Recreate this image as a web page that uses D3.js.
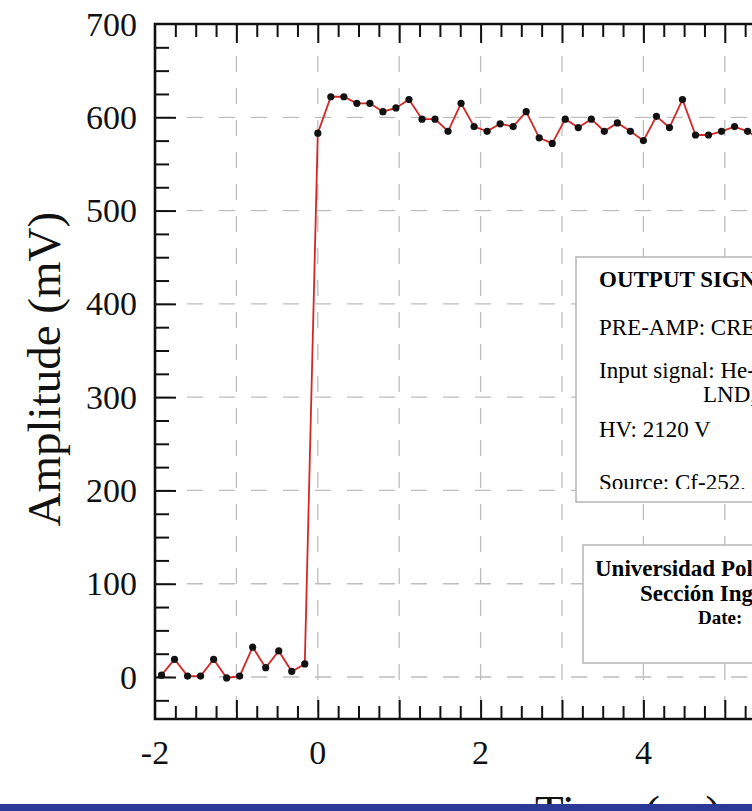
<!DOCTYPE html>
<html>
<head>
<meta charset="utf-8">
<script src="https://cdn.jsdelivr.net/npm/d3@7"></script>
<style>
  body { margin: 0; background: #fff; overflow: hidden; }
  svg { display: block; font-family: "Liberation Serif", "Times New Roman", serif; }
</style>
</head>
<body>
<script>
// signal samples
const timeUs = [-1.92, -1.76, -1.60, -1.44, -1.28, -1.12, -0.96, -0.80, -0.64, -0.48, -0.32, -0.16,
  0.00, 0.16, 0.32, 0.48, 0.64, 0.80, 0.96, 1.12, 1.28, 1.44, 1.60, 1.76, 1.92, 2.08, 2.24, 2.40,
  2.56, 2.72, 2.88, 3.04, 3.20, 3.36, 3.52, 3.68, 3.84, 4.00, 4.16, 4.32, 4.48, 4.64, 4.80, 4.96,
  5.12, 5.28, 5.44];
const amplitudeMv = [2, 19, 1, 1, 19, -1, 1, 32, 10, 28, 6, 14,
  583, 622, 622, 615, 615, 606, 610, 619, 598, 598, 585, 615, 590, 585, 593, 590,
  606, 578, 572, 598, 589, 598, 585, 594, 585, 575, 601, 589, 619, 581, 581, 585,
  590, 585, 576];

const yTickLabels = [0, 100, 200, 300, 400, 500, 600, 700];
const xTickLabels = [-2, 0, 2, 4, 6];

const infoTitle = 'OUTPUT SIGNAL';
const infoLines = ['PRE-AMP: CREMAT CR-110', 'Input signal: He-3 detector', 'LND, 252180', 'HV: 2120 V', 'Source: Cf-252, 9 cm'];
const labLines = ['Universidad Politécnica de Madrid', 'Sección Ingeniería Nuclear', 'Date:'];

const W = 752, H = 811;
const svg = d3.select('body').append('svg').attr('width', W).attr('height', H);

const x = d3.scaleLinear().domain([-2, 6]).range([155, 155 + 8 * 81.4]);
const y = d3.scaleLinear().domain([-45, 700]).range([719, 24]);

const gridColor = '#bdbdbd';

// dashed grid
const grid = svg.append('g');
grid.selectAll('line.gx')
  .data(d3.range(-1, 6, 1))
  .join('line')
  .attr('x1', d => x(d)).attr('x2', d => x(d))
  .attr('y1', y(700)).attr('y2', y(-45))
  .attr('stroke', gridColor).attr('stroke-width', 1.3)
  .attr('stroke-dasharray', '16,16');
grid.selectAll('line.gy')
  .data(yTickLabels.filter(d => d < 700))
  .join('line')
  .attr('x1', x(-2)).attr('x2', W + 60)
  .attr('y1', d => y(d)).attr('y2', d => y(d))
  .attr('stroke', gridColor).attr('stroke-width', 1.3)
  .attr('stroke-dasharray', '16,16');

// info boxes
svg.append('clipPath').attr('id', 'box1clip')
  .append('rect').attr('x', 576).attr('y', 257).attr('width', 300).attr('height', 232);

const box1 = svg.append('g');
box1.append('rect')
  .attr('x', 576).attr('y', 257).attr('width', 260).attr('height', 245)
  .attr('fill', '#fff').attr('stroke', '#b5b5b5').attr('stroke-width', 1.5);
box1.append('text').attr('x', 599).attr('y', 287)
  .attr('font-size', 23).attr('font-weight', 'bold').text(infoTitle);
const infoPos = [[599, 335], [599, 378], [703, 402], [599, 437], [599, 490]];
box1.append('g').attr('clip-path', 'url(#box1clip)')
  .selectAll('text.info')
  .data(infoLines)
  .join('text')
  .attr('class', 'info')
  .attr('x', (d, i) => infoPos[i][0]).attr('y', (d, i) => infoPos[i][1])
  .attr('font-size', 23)
  .text(d => d);

const box2 = svg.append('g');
box2.append('rect')
  .attr('x', 583).attr('y', 545).attr('width', 260).attr('height', 118)
  .attr('fill', '#fff').attr('stroke', '#b5b5b5').attr('stroke-width', 1.5);
const labPos = [[595, 576, 23], [640, 601, 23], [698, 624, 19]];
box2.selectAll('text')
  .data(labLines)
  .join('text')
  .attr('x', (d, i) => labPos[i][0]).attr('y', (d, i) => labPos[i][1])
  .attr('font-size', (d, i) => labPos[i][2])
  .attr('font-weight', 'bold')
  .text(d => d);

// trace
const line = d3.line()
  .x((d, i) => x(timeUs[i]))
  .y(d => y(d));
svg.append('path')
  .attr('d', line(amplitudeMv))
  .attr('fill', 'none')
  .attr('stroke', '#d42626')
  .attr('stroke-width', 1.8);
svg.append('g').selectAll('circle')
  .data(amplitudeMv)
  .join('circle')
  .attr('cx', (d, i) => x(timeUs[i]))
  .attr('cy', d => y(d))
  .attr('r', 3.6)
  .attr('fill', '#111');

// axes: ticks point inward
const xMinor = d3.range(-1.75, 6, 0.25).filter(d => Math.abs(d - Math.round(d)) > 1e-6);
const xMajor = d3.range(-1, 7, 1);
const yMinor = d3.range(-25, 700, 25).filter(d => d % 100 !== 0);
const yMajor = yTickLabels.filter(d => d < 700);

function styleAxis(g) {
  g.select('.domain').remove();
  g.selectAll('.tick line').attr('stroke', '#111').attr('stroke-width', 2);
  g.selectAll('.tick text').remove();
}

svg.append('g').attr('transform', `translate(0,${y(-45)})`)
  .call(d3.axisBottom(x).tickValues(xMinor).tickSize(-13)).call(styleAxis);
svg.append('g').attr('transform', `translate(0,${y(-45)})`)
  .call(d3.axisBottom(x).tickValues(xMajor).tickSize(-19)).call(styleAxis);
svg.append('g').attr('transform', `translate(0,${y(700)})`)
  .call(d3.axisTop(x).tickValues(xMinor).tickSize(-13)).call(styleAxis);
svg.append('g').attr('transform', `translate(0,${y(700)})`)
  .call(d3.axisTop(x).tickValues(xMajor).tickSize(-19)).call(styleAxis);
svg.append('g').attr('transform', `translate(${x(-2)},0)`)
  .call(d3.axisLeft(y).tickValues(yMinor).tickSize(-14)).call(styleAxis);
svg.append('g').attr('transform', `translate(${x(-2)},0)`)
  .call(d3.axisLeft(y).tickValues(yMajor).tickSize(-21)).call(styleAxis);

// frame
svg.append('path')
  .attr('d', `M${W + 60},${y(700)}H${x(-2)}V${y(-45)}H${W + 60}`)
  .attr('fill', 'none').attr('stroke', '#111').attr('stroke-width', 2.6);

// tick labels
svg.append('g').selectAll('text')
  .data(yTickLabels)
  .join('text')
  .attr('x', 137).attr('y', d => y(d))
  .attr('dy', '0.34em')
  .attr('text-anchor', 'end')
  .attr('font-size', 34)
  .attr('fill', '#111')
  .text(d => d);
svg.append('g').selectAll('text')
  .data(xTickLabels)
  .join('text')
  .attr('x', d => x(d)).attr('y', 764)
  .attr('text-anchor', 'middle')
  .attr('font-size', 34)
  .attr('fill', '#111')
  .text(d => d);

// axis titles
svg.append('text')
  .attr('transform', `translate(60,${y(330)}) rotate(-90)`)
  .attr('text-anchor', 'middle')
  .attr('font-size', 47)
  .attr('fill', '#111')
  .text('Amplitude (mV)');
svg.append('text')
  .attr('x', 628).attr('y', 828)
  .attr('text-anchor', 'middle')
  .attr('font-size', 47)
  .attr('fill', '#111')
  .text('Time (\u00b5s)');

// page edge strip
svg.append('rect')
  .attr('x', 0).attr('y', 804).attr('width', W).attr('height', 7)
  .attr('fill', '#2b3a96');
</script>
</body>
</html>
